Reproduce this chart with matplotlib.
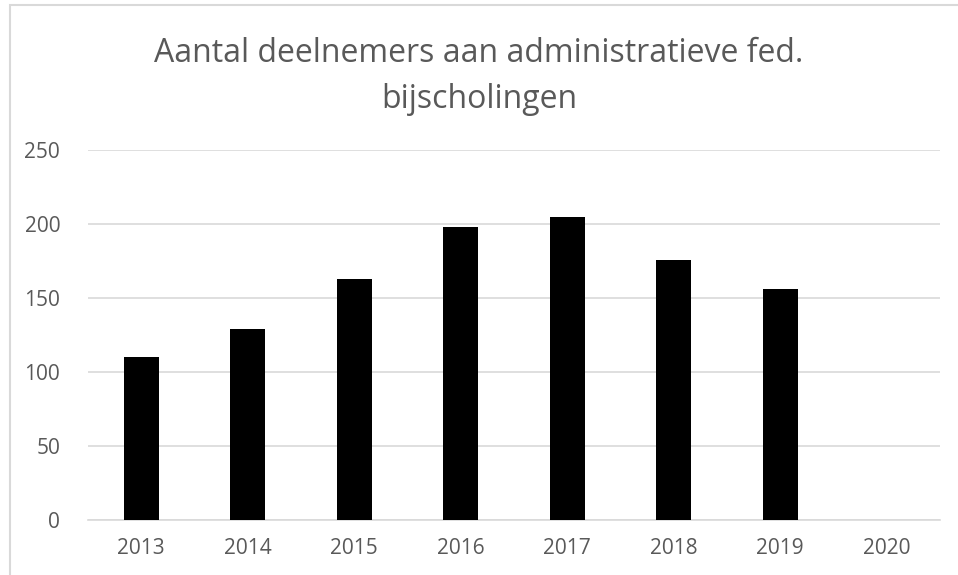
import matplotlib
matplotlib.use('Agg')
import matplotlib.pyplot as plt
from matplotlib.patches import Rectangle

years = ['2013', '2014', '2015', '2016', '2017', '2018', '2019', '2020']
participants = [110, 129, 163, 198, 205, 176, 156, 0]
yticks = [0, 50, 100, 150, 200, 250]

plt.rcParams['font.family'] = ['Open Sans', 'DejaVu Sans']

fig = plt.figure(figsize=(9.58, 5.75), dpi=100)
ax = fig.add_axes([88 / 958, 1 - 520 / 575, (940 - 88) / 958, 370 / 575])

x = range(len(years))
ax.bar(x, participants, width=0.33, color='black', zorder=3)

ax.set_xlim(-0.5, len(years) - 0.5)
ax.set_ylim(0, 250)
ax.set_yticks(yticks)
ax.set_xticks(list(x))
ax.set_xticklabels(years)
ax.grid(axis='y', color='#d9d9d9', linewidth=1.2, zorder=0)
for side in ['top', 'right', 'left']:
    ax.spines[side].set_visible(False)
ax.spines['bottom'].set_color('#d9d9d9')
ax.spines['bottom'].set_linewidth(1.2)
ax.tick_params(axis='both', length=0, labelsize=15, colors='#595959')
ax.tick_params(axis='y', pad=20)
ax.tick_params(axis='x', pad=13)

fig.text(0.5, 1 - 53 / 575, 'Aantal deelnemers aan administratieve fed.',
         ha='center', va='center', fontsize=23, color='#595959')
fig.text(0.5, 1 - 99 / 575, 'bijscholingen',
         ha='center', va='center', fontsize=23, color='#595959')

# chart border
fig.patches.append(Rectangle((9.5 / 958, -0.01), 1.02, 1 - 5 / 575 + 0.01, transform=fig.transFigure,
                             fill=False, edgecolor='#d9d9d9', linewidth=1.5))

fig.savefig('out.png', dpi=100)
